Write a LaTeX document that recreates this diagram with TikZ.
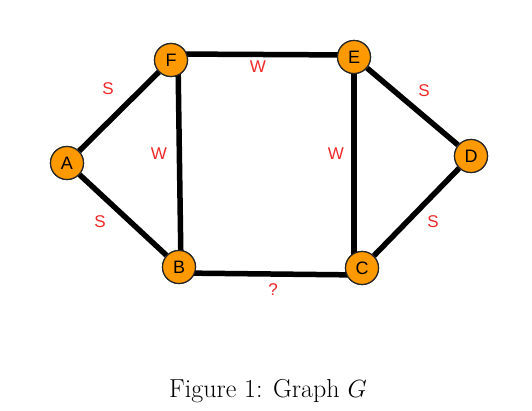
\documentclass[tikz,border=0pt]{standalone}
\usepackage{fontspec}
\newfontfamily\arialish{Liberation Sans}
\begin{document}
\begin{tikzpicture}[x=1pt,y=-1pt,
  vtx/.style={circle,draw=black!85,line width=1.2pt,fill={rgb,255:red,255;green,153;blue,0},minimum size=33pt,inner sep=0pt,font=\arialish\fontsize{18}{18}\selectfont},
  edge/.style={line width=5.5pt,black},
  lbl/.style={text={rgb,255:red,240;green,40;blue,40},font=\arialish\fontsize{17}{17}\selectfont,inner sep=0pt}]
\useasboundingbox (0,0) rectangle (532,411);
\node[vtx] (A) at (67,163) {A};
\node[vtx] (F) at (171,60) {F};
\node[vtx] (E) at (354,57) {E};
\node[vtx] (D) at (471,156) {D};
\node[vtx] (C) at (362,268) {C};
\node[vtx] (B) at (179,267) {B};
\draw[edge] (A) -- (F);
\draw[edge] (A) -- (B);
\draw[edge] ([xshift=7pt]F.center) -- ([xshift=2pt]B.center);
\draw[edge] ([yshift=6pt]F.center) -- ([yshift=2pt]E.center);
\draw[edge] (E) -- (D);
\draw[edge] (D) -- (C);
\draw[edge] (E.center) -- ([xshift=-8pt]C.center);
\draw[edge] ([yshift=-6pt]B.center) -- ([yshift=-7pt]C.center);
\node[vtx] at (A) {A};
\node[vtx] at (F) {F};
\node[vtx] at (E) {E};
\node[vtx] at (D) {D};
\node[vtx] at (C) {C};
\node[vtx] at (B) {B};
\node[lbl] (l1) at (108,89) {S};
\node[lbl] (l2) at (258,67) {W};
\node[lbl] (l3) at (159,154) {W};
\node[lbl] (l4) at (336,154) {W};
\node[lbl] (l5) at (424,91) {S};
\node[lbl] (l6) at (433,222) {S};
\node[lbl] (l7) at (100,222) {S};
\node[lbl] (l8) at (273,290) {?};
\node (cap) at (268,391) {\fontsize{26}{30}\selectfont Figure 1: Graph $G$};
\end{tikzpicture}
\end{document}
